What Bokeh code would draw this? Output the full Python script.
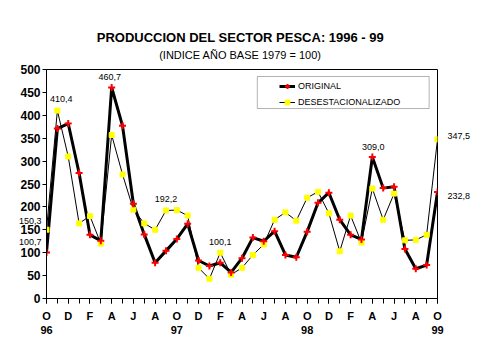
from bokeh.plotting import figure
from bokeh.models import (Range1d, FixedTicker, LinearAxis, Label, Legend,
                          LegendItem, BoxAnnotation, ColumnDataSource)
from bokeh.embed import file_html
from bokeh.resources import INLINE

# ---- data (Oct 1996 .. Oct 1999, monthly) ----
month_index = list(range(37))
original = [100.7, 371, 382, 274, 139, 126, 460.7, 377, 207, 140, 78, 104,
            130, 163, 83, 71, 78, 57, 88, 133, 125, 147, 95, 90,
            146, 209, 231, 172, 139, 129, 309.0, 241, 244, 108, 65, 73, 232.8]
desest = [150.3, 410.4, 310, 164, 180, 120, 357, 271, 194, 164, 150, 192.2,
          193, 181, 67, 43, 100.1, 52, 67, 95, 118, 172, 188, 170,
          220, 233, 186, 103, 181, 122, 240, 172, 229, 127, 128, 139, 347.5]
month_ticks = list(range(0, 37, 2))
month_labels = ["O", "D", "F", "A", "J", "A"] * 3 + ["O"]
year_ticks = [0, 12, 24, 36]
year_labels = ["96", "97", "98", "99"]
y_ticks = list(range(0, 501, 50))
title_text = "PRODUCCION DEL SECTOR PESCA: 1996 - 99"
subtitle_text = "(INDICE AÑO BASE 1979 = 100)"

FONT = "Liberation Sans"
PPU = 229 / 500  # pixels per y unit (frame height / range)


def fmt(v):
    return f"{v:.1f}".replace(".", ",")


def text_axis(pos, text, size, style, standoff):
    return LinearAxis(ticker=FixedTicker(ticks=[pos]),
                      major_label_overrides={pos: text},
                      axis_line_color=None, major_tick_line_color=None,
                      minor_tick_line_color=None, major_label_standoff=standoff,
                      major_label_text_font=FONT, major_label_text_font_size=size,
                      major_label_text_font_style=style,
                      major_label_text_color="black")


p = figure(width=479, height=359, output_backend="svg", toolbar_location=None,
           x_range=Range1d(0, 36), y_range=Range1d(0, 500),
           min_border_left=46, min_border_right=42, min_border_top=69,
           min_border_bottom=61, background_fill_color="white",
           border_fill_color="white")
p.outline_line_color = "black"
p.outline_line_width = 1
p.xgrid.visible = False
p.ygrid.visible = False

src = ColumnDataSource(dict(x=month_index, orig=original, des=desest))

l_des = p.line("x", "des", source=src, line_color="black", line_width=1)
l_org = p.line("x", "orig", source=src, line_color="black", line_width=3)
m_des = p.scatter("x", "des", source=src, marker="square", size=5,
                  fill_color="#ffff00", line_color="#ffff00")
m_org = p.scatter("x", "orig", source=src, marker="cross", size=7,
                  line_color="#ff0000", line_width=2)

# x axis: month letters
xa = p.xaxis[0]
xa.ticker = FixedTicker(ticks=month_ticks, minor_ticks=month_index)
xa.major_label_overrides = {t: s for t, s in zip(month_ticks, month_labels)}
xa.major_tick_out = 5
xa.major_tick_in = 0
xa.minor_tick_out = 5
xa.minor_tick_in = 0
xa.major_label_standoff = 6
xa.major_label_text_font = FONT
xa.major_label_text_font_size = "11px"
xa.major_label_text_font_style = "bold"
xa.major_label_text_color = "black"
xa.axis_line_color = "black"
xa.major_tick_line_color = "black"
xa.minor_tick_line_color = "black"

# x axis: years
yr = LinearAxis(ticker=FixedTicker(ticks=year_ticks),
                major_label_overrides={t: s for t, s in zip(year_ticks, year_labels)},
                axis_line_color=None, major_tick_line_color=None,
                minor_tick_line_color=None, major_label_standoff=-5,
                major_label_text_font=FONT, major_label_text_font_size="11px",
                major_label_text_font_style="bold", major_label_text_color="black")
p.add_layout(yr, "below")

# y axis
yax = p.yaxis[0]
yax.ticker = FixedTicker(ticks=y_ticks)
yax.major_tick_out = 4
yax.major_tick_in = 0
yax.minor_tick_line_color = None
yax.major_label_standoff = 2
yax.major_label_text_font = FONT
yax.major_label_text_font_size = "12px"
yax.major_label_text_font_style = "bold"
yax.major_label_text_color = "black"
yax.axis_line_color = "black"
yax.major_tick_line_color = "black"

# value labels left of the frame (Oct 96)
left_vals = [desest[0], original[0]]
left_shift = [9, 10]
la = LinearAxis(ticker=FixedTicker(ticks=[v + s / PPU for v, s in zip(left_vals, left_shift)]),
                major_label_overrides={v + s / PPU: fmt(v) for v, s in zip(left_vals, left_shift)},
                axis_line_color=None, major_tick_line_color=None,
                minor_tick_line_color=None, major_label_standoff=-30,
                major_label_text_font=FONT, major_label_text_font_size="9px",
                major_label_text_color="black")
p.add_layout(la, "left")

# value labels right of the frame (Oct 99)
right_vals = [desest[36], original[36]]
right_shift = [3, -4]
ra = LinearAxis(ticker=FixedTicker(ticks=[v + s / PPU for v, s in zip(right_vals, right_shift)]),
                major_label_overrides={v + s / PPU: fmt(v) for v, s in zip(right_vals, right_shift)},
                axis_line_color=None, major_tick_line_color=None,
                minor_tick_line_color=None, major_label_standoff=4,
                major_label_text_font=FONT, major_label_text_font_size="9px",
                major_label_text_color="black")
p.add_layout(ra, "right")

# titles as label-only axes above the frame (first added sits closest)
mid = (month_index[0] + month_index[-1]) / 2
p.add_layout(text_axis(mid - 0.15, subtitle_text, "11px", "normal", 3), "above")
p.add_layout(text_axis(mid - 0.15, title_text, "13px", "bold", -5), "above")

# value annotations inside the frame: (series, index, x_offset, y_offset)
notes = [(desest, 1, 4, 12), (original, 6, -2, 10), (desest, 11, 0, 11),
         (desest, 16, 0, 11), (original, 30, 1, 10)]
for ser, i, xo, yo in notes:
    p.add_layout(Label(x=month_index[i], y=ser[i], x_offset=xo, y_offset=yo,
                       text=fmt(ser[i]), text_font=FONT, text_font_size="9px",
                       text_color="black", text_align="center",
                       text_baseline="middle"))

# legend box + legend
p.add_layout(BoxAnnotation(left=19.41, right=35.23, bottom=414.8, top=484.7,
                           fill_color="white", fill_alpha=1,
                           line_color="black", line_width=1))
legend = Legend(items=[LegendItem(label="ORIGINAL", renderers=[l_org, m_org]),
                       LegendItem(label="DESESTACIONALIZADO", renderers=[l_des, m_des])],
                location=(233, 190), padding=2, margin=0, glyph_width=16,
                glyph_height=12, label_height=12, spacing=4, label_standoff=3,
                border_line_color=None, background_fill_alpha=0,
                label_text_font=FONT, label_text_font_size="9px",
                label_text_color="black")
p.add_layout(legend)

open("out.html", "w").write(file_html(p, INLINE))
